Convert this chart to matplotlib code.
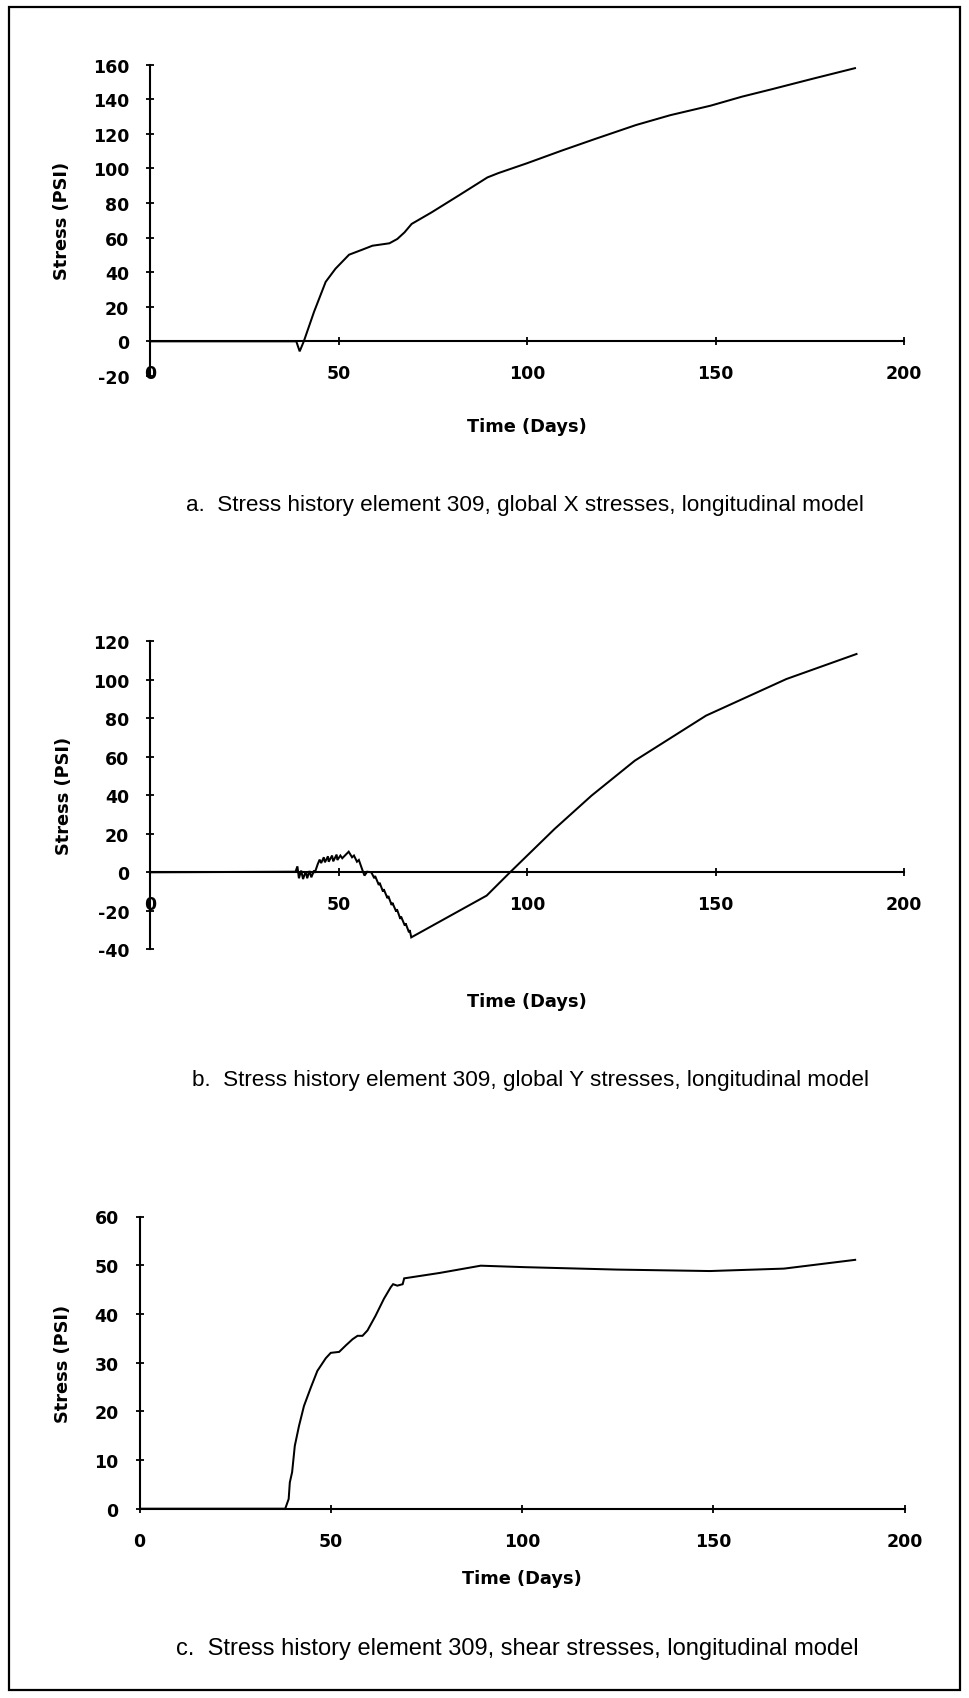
import matplotlib
matplotlib.use("Agg")
import matplotlib.pyplot as plt
from matplotlib.patches import Rectangle

# ---------------- data ----------------
# Panel a: global X stresses
time_a = [0, 10, 20, 30, 38.8, 39.7, 40.8, 43.5, 46.6, 49.2, 52.8, 56.3, 59.0,
          63.5, 65.6, 67.5, 69.4, 74.7, 82.0, 89.5, 92.4, 100.0, 109.2, 118.0,
          128.9, 138.0, 148.7, 157.0, 165.1, 176.0, 187.0]
stress_a = [0, 0, 0, 0, 0, -5.8, 0, 17.0, 34.4, 42.0, 50.1, 53.0, 55.3,
            56.7, 59.2, 63.0, 67.9, 74.6, 84.5, 94.8, 97.3, 103.0, 110.3, 117.0,
            125.1, 130.8, 136.3, 141.5, 145.9, 152.0, 158.0]

# Panel b: global Y stresses
time_b = [0, 38.6, 39.1, 39.5, 40.1, 40.6, 41.3, 41.7, 42.3, 42.8, 43.5, 43.7,
          44.5, 45.0, 45.4, 46.1, 46.4, 47.2, 47.4, 48.3, 48.6, 49.5, 49.7,
          50.5, 51.0, 52.7, 53.6, 54.1, 54.9, 55.4, 56.3, 56.9, 57.6, 58.7,
          59.5, 59.7, 60.7, 60.9, 61.8, 62.0, 63.0, 63.2, 64.1, 64.3, 65.3,
          65.5, 66.4, 66.6, 67.6, 67.8, 68.7, 68.9, 69.3,
          89.3, 95.5, 107.3, 117.1, 128.6, 147.5, 168.8, 187.4]
stress_b = [0, 0.3, 3.1, -3.1, 0.9, -3.5, 0.5, -3.1, 0.7, -2.6, 0.9, -0.3,
            4.3, 6.6, 4.8, 7.8, 5.2, 8.3, 5.5, 8.7, 5.7, 9.2, 6.4,
            8.7, 7.3, 10.7, 7.8, 8.7, 5.5, 6.4, 1.4, -1.7, 0.3, 0.0,
            -3.1, -1.9, -6.6, -5.4, -10.0, -8.8, -13.5, -12.3, -17.0, -15.8, -20.4,
            -19.2, -24.2, -23.0, -27.7, -26.5, -31.2, -30.0, -33.8,
            -12.1, 0.0, 22.5, 39.8, 58.0, 81.4, 100.4, 113.4]

# Panel c: shear stresses
time_c = [0, 10, 20, 30, 38.1, 39.0, 39.3, 39.9, 40.6, 41.7, 43.0, 44.8, 46.5,
          48.7, 50.0, 52.2, 53.9, 55.7, 57.0, 58.3, 59.6, 61.7, 63.9, 65.7,
          66.3, 67.4, 68.8, 69.2, 78.4, 89.2, 100.6, 124.8, 149.1, 168.5, 187.1]
stress_c = [0, 0, 0, 0, 0, 2.0, 5.4, 7.5, 12.9, 17.0, 21.1, 24.9, 28.3,
            30.9, 32.0, 32.2, 33.5, 34.8, 35.5, 35.5, 36.6, 39.6, 43.1, 45.5,
            46.1, 45.8, 46.1, 47.3, 48.4, 49.9, 49.6, 49.1, 48.8, 49.3, 51.1]

x_ticks = [0, 50, 100, 150, 200]
x_ticklabels = ["0", "50", "100", "150", "200"]
y_ticks_a = [-20, 0, 20, 40, 60, 80, 100, 120, 140, 160]
y_ticks_b = [-40, -20, 0, 20, 40, 60, 80, 100, 120]
y_ticks_c = [0, 10, 20, 30, 40, 50, 60]

xlabel = "Time (Days)"
ylabel = "Stress (PSI)"
captions = [
    "a.  Stress history element 309, global X stresses, longitudinal model",
    "b.  Stress history element 309, global Y stresses, longitudinal model",
    "c.  Stress history element 309, shear stresses, longitudinal model",
]

# ---------------- figure ----------------
W, H = 969, 1699
fig = plt.figure(figsize=(W / 100, H / 100), dpi=100)

def px_axes(x0, x1, ytop, ybot):
    return [x0 / W, 1 - ybot / H, (x1 - x0) / W, (ybot - ytop) / H]

tick_font = dict(family="DejaVu Sans", weight="bold", size=12.5)
label_font = dict(family="DejaVu Sans", weight="bold", size=12.8)

panels = [
    dict(rect=px_axes(150, 904, 65.7, 376.9), t=time_a, s=stress_a,
         ylim=(-20, 160), yt=y_ticks_a, ylab_x=-0.117, xlab_y=-0.160),
    dict(rect=px_axes(150, 904, 642.3, 950.3), t=time_b, s=stress_b,
         ylim=(-40, 120), yt=y_ticks_b, ylab_x=-0.114, xlab_y=-0.167),
    dict(rect=px_axes(139.5, 904.5, 1217.5, 1509.7), t=time_c, s=stress_c,
         ylim=(0, 60), yt=y_ticks_c, ylab_x=-0.100, xlab_y=-0.237),
]

for p in panels:
    ax = fig.add_axes(p["rect"])
    ax.plot(p["t"], p["s"], color="black", lw=1.45, solid_joinstyle="miter")
    ax.set_xlim(0, 200)
    ax.set_ylim(*p["ylim"])
    ax.spines["top"].set_visible(False)
    ax.spines["right"].set_visible(False)
    ax.spines["bottom"].set_position(("data", 0))
    ax.spines["left"].set_linewidth(1.5)
    ax.spines["bottom"].set_linewidth(1.5)
    ax.set_xticks(x_ticks)
    ax.set_xticklabels(x_ticklabels, **tick_font)
    ax.set_yticks(p["yt"])
    ax.set_yticklabels([str(v) for v in p["yt"]], **tick_font)
    ax.tick_params(axis="x", direction="inout", length=6, width=1.3, pad=13.5)
    ax.tick_params(axis="y", direction="inout", length=6, width=1.3, pad=12)
    ax.set_xlabel(xlabel, **label_font)
    ax.set_ylabel(ylabel, **label_font)
    ax.yaxis.set_label_coords(p["ylab_x"], 0.5)
    ax.yaxis.label.set_va("center")
    ax.xaxis.set_label_coords(0.5, p["xlab_y"])
    ax.xaxis.label.set_va("center")
    ax.patch.set_alpha(0)

cap_pos = [(524.5, 505.5), (531, 1080.5), (517.5, 1649)]
cap_size = [16.2, 16.2, 17.0]
for (cx, cy), cap, sz in zip(cap_pos, captions, cap_size):
    fig.text(cx / W, 1 - cy / H, cap, ha="center", va="center",
             family="Liberation Sans", stretch="normal", weight="normal",
             size=sz)

fig.add_artist(Rectangle((8.5 / W, 8.5 / H), (960 - 8.5) / W, (1691 - 8.5) / H,
                         transform=fig.transFigure, fill=False,
                         edgecolor="black", lw=1.6))

fig.savefig("out.png", dpi=100, facecolor="white")
